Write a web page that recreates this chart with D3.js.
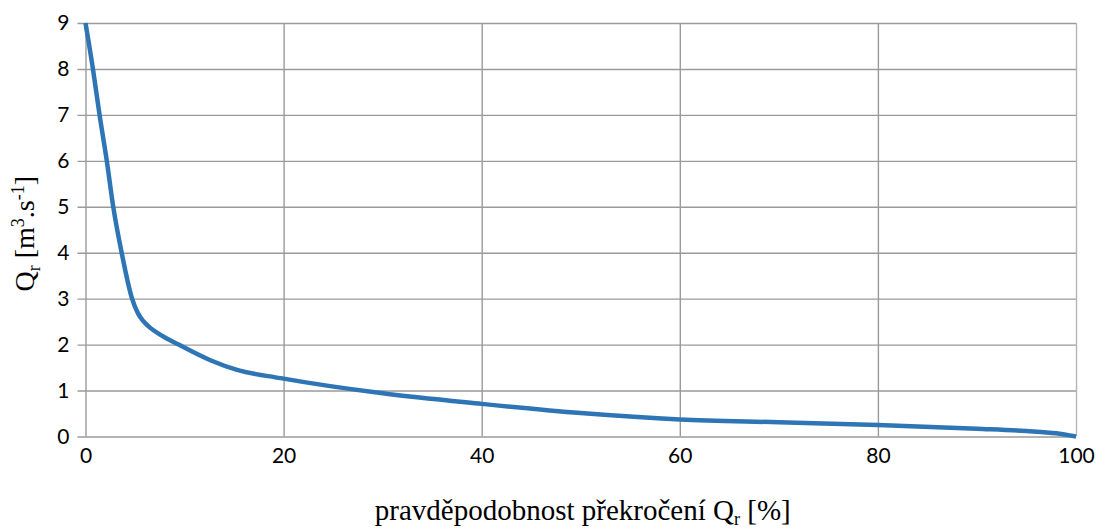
<!DOCTYPE html>
<html>
<head>
<meta charset="utf-8">
<script src="https://cdn.jsdelivr.net/npm/d3@7/dist/d3.min.js"></script>
<style>
  body { margin: 0; background: #ffffff; }
  svg { display: block; }
</style>
</head>
<body>
<div class="mainWrapper"></div>
<script>
// exceedance probability [%] and discharge Qr [m3/s]
var probability = [0, 0.75, 1.42, 2.15, 2.8, 3.65, 4.7, 5.3, 5.8, 6.4, 7.9, 9.4, 12.6, 15.3, 19.7, 30, 40, 50, 60, 70, 80, 90, 95, 98, 100];
var discharge   = [9.0, 8.0, 7.0, 6.0, 5.0, 4.0, 3.0, 2.68, 2.52, 2.39, 2.17, 2.0, 1.66, 1.45, 1.27, 0.94, 0.71, 0.51, 0.37, 0.31, 0.25, 0.17, 0.12, 0.07, 0.0];
var xTicks = [0, 20, 40, 60, 80, 100];
var yTicks = [0, 1, 2, 3, 4, 5, 6, 7, 8, 9];

var W = 1099, H = 529;
var margin = {top: 23, right: 23, bottom: 92.5, left: 85.5},
    width = W - margin.left - margin.right,
    height = H - margin.top - margin.bottom;

var svg = d3.select(".mainWrapper")
  .append("svg")
    .attr("width", W)
    .attr("height", H)
  .append("g")
    .attr("transform", "translate(" + margin.left + "," + margin.top + ")");

var x = d3.scaleLinear().domain([0, 100]).range([0, width]);
var y = d3.scaleLinear().domain([0, 9]).range([height, 0]);

// horizontal grid with little ticks on the left
var yAxis = d3.axisLeft(y)
  .tickValues(yTicks)
  .tickSize(-width)
  .tickFormat(d3.format("d"));

svg.append("g")
  .attr("class", "yAxis")
  .call(yAxis)
  .call(function(g) {
    g.select(".domain").remove();
    g.selectAll(".tick line")
      .attr("x1", -8)
      .attr("x2", width)
      .attr("stroke", "#9a9a9a")
      .attr("stroke-width", 1.4);
    g.selectAll(".tick text")
      .attr("x", -16)
      .attr("font-family", "Lato, 'Open Sans', sans-serif")
      .attr("font-size", 21)
      .attr("fill", "#000");
  });

// vertical grid
var xAxis = d3.axisBottom(x)
  .tickValues(xTicks)
  .tickSize(-height)
  .tickPadding(4)
  .tickFormat(d3.format("d"));

svg.append("g")
  .attr("class", "xAxis")
  .attr("transform", "translate(0," + height + ")")
  .call(xAxis)
  .call(function(g) {
    g.select(".domain").remove();
    g.selectAll(".tick line")
      .attr("stroke", function(d) { return d === 100 ? "#b4b4b4" : "#9a9a9a"; })
      .attr("stroke-width", 1.4);
    g.selectAll(".tick text")
      .attr("y", 12)
      .attr("font-family", "Lato, 'Open Sans', sans-serif")
      .attr("font-size", 21)
      .attr("fill", "#000");
  });

// the curve
svg.append("path")
  .datum(d3.zip(probability, discharge))
  .attr("fill", "none")
  .attr("stroke", "#2e75b6")
  .attr("stroke-width", 4.5)
  .attr("d", d3.line()
    .curve(d3.curveMonotoneX)
    .x(function(d) { return x(d[0]); })
    .y(function(d) { return y(d[1]); }));

// axis titles
var xTitle = svg.append("text")
  .attr("x", width / 2 + 2)
  .attr("y", height + 83)
  .attr("text-anchor", "middle")
  .attr("font-family", "'Liberation Serif', 'Times New Roman', serif")
  .attr("font-size", 29)
  .attr("fill", "#000");
xTitle.append("tspan").text("pravděpodobnost překročení Q");
xTitle.append("tspan").attr("font-size", 18).attr("dy", 5).text("r");
xTitle.append("tspan").attr("dy", -5).text(" [%]");

var yTitle = svg.append("text")
  .attr("transform", "translate(" + (-52) + "," + (height / 2 + 4) + ") rotate(-90)")
  .attr("text-anchor", "middle")
  .attr("font-family", "'Liberation Serif', 'Times New Roman', serif")
  .attr("font-size", 28)
  .attr("fill", "#000");
yTitle.append("tspan").text("Q");
yTitle.append("tspan").attr("font-size", 18).attr("dy", 6).text("r");
yTitle.append("tspan").attr("dy", -6).text(" [m");
yTitle.append("tspan").attr("font-size", 18).attr("dy", -10).text("3");
yTitle.append("tspan").attr("dy", 10).text(".s");
yTitle.append("tspan").attr("font-size", 18).attr("dy", -10).text("-1");
yTitle.append("tspan").attr("dy", 10).text("]");
</script>
</body>
</html>
